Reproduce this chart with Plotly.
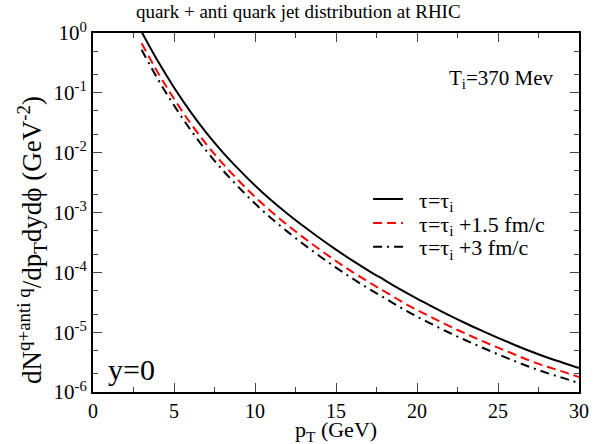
import plotly.graph_objects as go

pt = list(range(3, 31))
black = [1.047, 0.339, 0.123, 0.0490, 0.0214, 0.01023, 5.25e-3, 2.82e-3, 1.60e-3, 9.55e-4,
         5.89e-4, 3.72e-4, 2.40e-4, 1.58e-4, 1.07e-4, 7.41e-5, 5.13e-5, 3.63e-5, 2.63e-5,
         1.91e-5, 1.41e-5, 1.06e-5, 8.04e-6, 6.17e-6, 4.79e-6, 3.80e-6, 3.09e-6, 2.51e-6]
red = [0.676, 0.219, 0.0794, 0.0316, 0.0138, 6.61e-3, 3.39e-3, 1.82e-3, 1.04e-3, 6.17e-4,
       3.80e-4, 2.40e-4, 1.55e-4, 1.02e-4, 6.92e-5, 4.79e-5, 3.31e-5, 2.34e-5, 1.72e-5,
       1.26e-5, 9.44e-6, 7.16e-6, 5.50e-6, 4.27e-6, 3.31e-6, 2.66e-6, 2.19e-6, 1.78e-6]
dashdot = [0.525, 0.170, 0.0617, 0.0245, 0.0107, 5.13e-3, 2.63e-3, 1.41e-3, 8.04e-4, 4.79e-4,
           2.95e-4, 1.86e-4, 1.20e-4, 7.94e-5, 5.37e-5, 3.72e-5, 2.57e-5, 1.82e-5, 1.33e-5,
           9.77e-6, 7.33e-6, 5.56e-6, 4.27e-6, 3.31e-6, 2.60e-6, 2.09e-6, 1.72e-6, 1.41e-6]
names = ["τ=τ<sub>i</sub>", "τ=τ<sub>i</sub> +1.5 fm/c", "τ=τ<sub>i</sub> +3 fm/c"]

ytickvals = [1, 0.1, 0.01, 1e-3, 1e-4, 1e-5, 1e-6]
yticktext = ["10<sup>0</sup>", "10<sup>-1</sup>", "10<sup>-2</sup>", "10<sup>-3</sup>",
             "10<sup>-4</sup>", "10<sup>-5</sup>", "10<sup>-6</sup>"]

FONT = '"Liberation Serif", "Times New Roman", Times, serif'
PAD = "\u00a0\u00a0"

fig = go.Figure()
fig.add_trace(go.Scatter(x=pt, y=black, mode="lines", name=PAD + names[0], legend="legend",
                         line=dict(color="black", width=2, shape="spline")))
fig.add_trace(go.Scatter(x=pt, y=red, mode="lines", name=PAD + names[1], legend="legend2",
                         line=dict(color="red", width=2, dash="9px,5px", shape="spline")))
fig.add_trace(go.Scatter(x=pt, y=dashdot, mode="lines", name=PAD + names[2], legend="legend3",
                         line=dict(color="black", width=2, dash="9px,5px,2px,5px", shape="spline")))

leg_common = dict(x=0.566, xanchor="left", yanchor="middle", bgcolor="rgba(0,0,0,0)",
                  font=dict(family=FONT, size=22), borderwidth=0)

fig.update_layout(
    width=615, height=444,
    margin=dict(l=93, r=36, t=33, b=52, autoexpand=False),
    paper_bgcolor="white", plot_bgcolor="white",
    font=dict(family=FONT, color="black", size=20),
    title=dict(text="quark + anti quark jet distribution at RHIC",
               font=dict(family=FONT, size=19),
               x=0.485, xanchor="center", y=0.99, yanchor="top"),
    showlegend=True,
    legend=dict(y=0.537, **leg_common),
    legend2=dict(y=0.470, **leg_common),
    legend3=dict(y=0.404, **leg_common),
    xaxis=dict(range=[0, 30], tickvals=[0, 5, 10, 15, 20, 25, 30], ticks="inside",
               ticklen=9, tickwidth=1, showline=True, linecolor="black", linewidth=2,
               mirror="allticks", showgrid=False, zeroline=False, automargin=False,
               minor=dict(dtick=2.5, tick0=0, ticks="inside", ticklen=5, showgrid=False),
               tickfont=dict(family=FONT, size=20)),
    yaxis=dict(type="log", range=[-6, 0], tickvals=ytickvals, ticktext=yticktext,
               ticks="inside", ticklen=9, tickwidth=1, showline=True, linecolor="black",
               linewidth=2, mirror="allticks", showgrid=False, zeroline=False, automargin=False,
               minor=dict(ticks="inside", ticklen=5, showgrid=False),
               tickfont=dict(family=FONT, size=21)),
)

fig.add_annotation(x=0.5, y=-0.152, xref="paper", yref="paper",
                   text="p<sub>T</sub> (GeV)", showarrow=False,
                   font=dict(family=FONT, size=22), xanchor="center", yanchor="bottom")
fig.add_annotation(x=-0.126, y=0.423, xref="paper", yref="paper", textangle=-90,
                   text="dN<sup>q+anti q</sup>/dp<sub>T</sub>dydϕ (GeV<sup>-2</sup>)",
                   showarrow=False, font=dict(family=FONT, size=27),
                   xanchor="center", yanchor="middle")
fig.add_annotation(x=21.85, y=-0.77, xref="x", yref="y", text="T<sub>i</sub>=370 Mev",
                   showarrow=False, font=dict(family=FONT, size=21), xanchor="left")
fig.add_annotation(x=0.8, y=-5.62, xref="x", yref="y", text="y=0",
                   showarrow=False, font=dict(family=FONT, size=30), xanchor="left")

fig.write_html("out.html")
